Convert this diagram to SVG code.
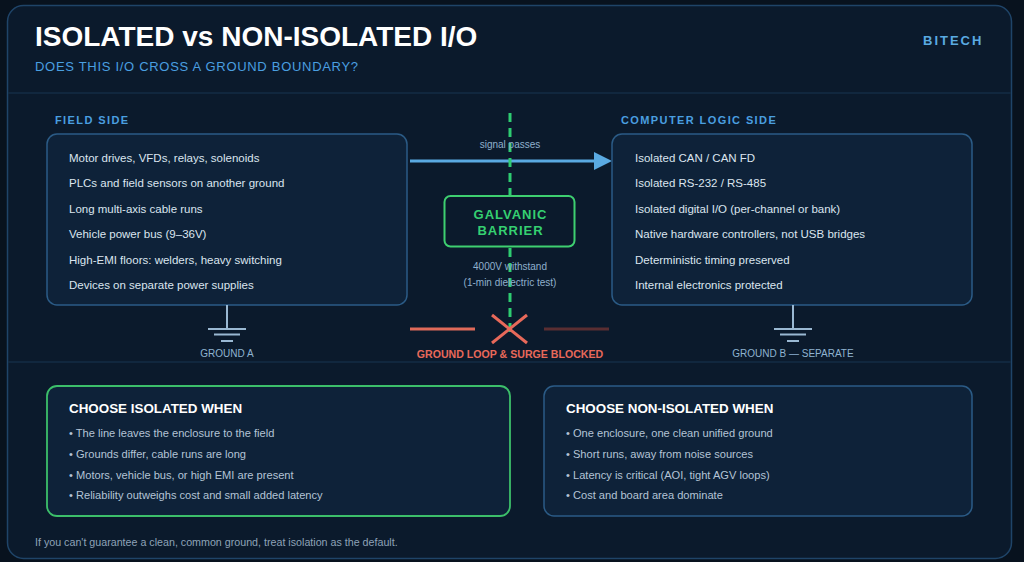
<svg xmlns="http://www.w3.org/2000/svg" width="1024" height="562" viewBox="0 0 1024 562">
<defs>
<style>
.sans{font-family:"Liberation Sans",Arial,sans-serif}
.title{font-size:28px;font-weight:bold;fill:#ffffff}
.sub{font-size:13px;fill:#4a9fe0;letter-spacing:0.7px}
.brand{font-size:13px;font-weight:bold;fill:#5aaae2;letter-spacing:2px}
.sec{font-size:11px;font-weight:bold;fill:#4a9fe0;letter-spacing:1.4px}
.box{fill:#0e2239;stroke:#2b5b86;stroke-width:1.5}
.item{font-size:11.5px;fill:#dbe5ef}
.bul{font-size:11.1px;fill:#b4c4d6}
.btitle{font-size:13.4px;font-weight:bold;fill:#ffffff}
.small{font-size:10px;fill:#8fb0cc}
.gnd{stroke:#9ab8d2;stroke-width:2;fill:none}
.glabel{font-size:10px;fill:#8fb3d0}
</style>
</defs>
<rect x="0" y="0" width="1024" height="562" fill="#08121e"/>
<rect x="7.5" y="5.5" width="1004" height="553" rx="16" fill="#0b1a2c" stroke="#1f4468" stroke-width="1.5"/>
<line x1="8" y1="93" x2="1011" y2="93" stroke="#142c45" stroke-width="1.5"/>
<line x1="8" y1="362" x2="1011" y2="362" stroke="#142c45" stroke-width="1.5"/>

<g id="header" class="sans">
<text x="35" y="46" class="title">ISOLATED vs NON-ISOLATED I/O</text>
<text x="35" y="71" class="sub">DOES THIS I/O CROSS A GROUND BOUNDARY?</text>
<text x="923" y="45" class="brand">BITECH</text>
</g>

<g id="connectors">
<line x1="410" y1="161" x2="596" y2="161" stroke="#5aaae2" stroke-width="3"/>
<polygon points="594,152 612,161 594,170" fill="#5aaae2"/>
<line x1="510" y1="113" x2="510" y2="338" stroke="#2ecc71" stroke-width="3" stroke-dasharray="9,6"/>
<line x1="410" y1="329" x2="475" y2="329" stroke="#e06a5a" stroke-width="3"/>
<line x1="544" y1="329" x2="609" y2="329" stroke="#5a2e32" stroke-width="3"/>
<line x1="492" y1="315" x2="527" y2="343" stroke="#e8695a" stroke-width="3"/>
<line x1="527" y1="315" x2="492" y2="343" stroke="#e8695a" stroke-width="3"/>
<text x="510" y="148" class="sans small" text-anchor="middle">signal passes</text>
<text x="510" y="270" class="sans small" text-anchor="middle">4000V withstand</text>
<text x="510" y="286" class="sans small" text-anchor="middle">(1-min dielectric test)</text>
<text x="510" y="358" class="sans" text-anchor="middle" font-size="10.6px" font-weight="bold" fill="#e8695a">GROUND LOOP &amp; SURGE BLOCKED</text>
</g>

<g id="field-side" class="sans">
<text x="55" y="124" class="sec">FIELD SIDE</text>
<rect x="47" y="134" width="360" height="171" rx="10" class="box"/>
<text x="69" y="161.5" class="item">Motor drives, VFDs, relays, solenoids</text>
<text x="69" y="187" class="item">PLCs and field sensors on another ground</text>
<text x="69" y="212.5" class="item">Long multi-axis cable runs</text>
<text x="69" y="238" class="item">Vehicle power bus (9–36V)</text>
<text x="69" y="263.5" class="item">High-EMI floors: welders, heavy switching</text>
<text x="69" y="289" class="item">Devices on separate power supplies</text>
</g>

<g id="logic-side" class="sans">
<text x="621" y="124" class="sec">COMPUTER LOGIC SIDE</text>
<rect x="612" y="134" width="360" height="171" rx="10" class="box"/>
<text x="635" y="161.5" class="item">Isolated CAN / CAN FD</text>
<text x="635" y="187" class="item">Isolated RS-232 / RS-485</text>
<text x="635" y="212.5" class="item">Isolated digital I/O (per-channel or bank)</text>
<text x="635" y="238" class="item">Native hardware controllers, not USB bridges</text>
<text x="635" y="263.5" class="item">Deterministic timing preserved</text>
<text x="635" y="289" class="item">Internal electronics protected</text>
</g>

<g id="galvanic-barrier" class="sans">
<rect x="444.5" y="196" width="130" height="50.5" rx="6" fill="#0b1a2c" stroke="#3ecf70" stroke-width="2"/>
<text x="510.5" y="219" text-anchor="middle" font-size="13px" font-weight="bold" fill="#35d071" letter-spacing="1px">GALVANIC</text>
<text x="510.5" y="235" text-anchor="middle" font-size="13px" font-weight="bold" fill="#35d071" letter-spacing="1px">BARRIER</text>
</g>

<g id="ground-a" class="sans">
<path d="M227 305 V329 M208 329 H246 M214 334.5 H240 M221 341 H233" class="gnd"/>
<text x="227" y="357" class="glabel" text-anchor="middle">GROUND A</text>
</g>

<g id="ground-b" class="sans">
<path d="M793 305 V329 M774 329 H812 M780 334.5 H806 M787 341 H799" class="gnd"/>
<text x="793" y="357" class="glabel" text-anchor="middle">GROUND B — SEPARATE</text>
</g>

<g id="choose-isolated" class="sans">
<rect x="47" y="386" width="463" height="130" rx="10" fill="#0e2239" stroke="#3cbf6a" stroke-width="1.8"/>
<text x="69" y="413" class="btitle">CHOOSE ISOLATED WHEN</text>
<text x="69" y="437" class="bul">• The line leaves the enclosure to the field</text>
<text x="69" y="457.5" class="bul">• Grounds differ, cable runs are long</text>
<text x="69" y="478.5" class="bul">• Motors, vehicle bus, or high EMI are present</text>
<text x="69" y="499" class="bul">• Reliability outweighs cost and small added latency</text>
</g>

<g id="choose-non-isolated" class="sans">
<rect x="544" y="386" width="428" height="130" rx="10" class="box"/>
<text x="566" y="413" class="btitle">CHOOSE NON-ISOLATED WHEN</text>
<text x="566" y="437" class="bul">• One enclosure, one clean unified ground</text>
<text x="566" y="457.5" class="bul">• Short runs, away from noise sources</text>
<text x="566" y="478.5" class="bul">• Latency is critical (AOI, tight AGV loops)</text>
<text x="566" y="499" class="bul">• Cost and board area dominate</text>
</g>

<g id="footer" class="sans">
<text x="35" y="545.5" font-size="10.7px" fill="#8ea3b8">If you can't guarantee a clean, common ground, treat isolation as the default.</text>
</g>
</svg>
